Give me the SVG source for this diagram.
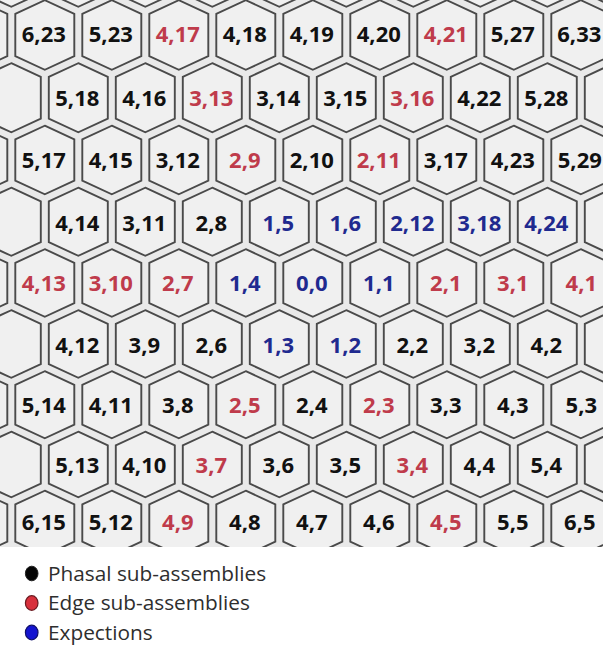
<svg xmlns="http://www.w3.org/2000/svg" xmlns:xlink="http://www.w3.org/1999/xlink" width="603" height="646" viewBox="0 0 603 646">
<style>
.hx{fill:#f0f0f0;stroke:#4a4a4a;stroke-width:1.9;stroke-linejoin:miter}
.t{font-family:"Open Sans","Liberation Sans",sans-serif;font-weight:bold;font-size:22px;text-anchor:middle}
.k{fill:#111111}
.r{fill:#bf3b4b}
.b{fill:#1f2a8f}
.lg{font-family:"Open Sans","Liberation Sans",sans-serif;font-size:20.8px;fill:#2e2e2e}
</style>
<defs>
<clipPath id="gridclip"><rect x="0" y="0" width="603" height="547"/></clipPath>
<polygon id="rm1" class="hx" points="0,-62.8 29.5,-49.2 29.5,-6.8 0,6.8 -29.5,-6.8 -29.5,-49.2"/>
<polygon id="r0" class="hx" points="0,0.2 29.5,13.8 29.5,56.2 0,69.8 -29.5,56.2 -29.5,13.8"/>
<polygon id="r1" class="hx" points="0,63.2 29.5,76.8 29.5,118.7 0,132.3 -29.5,118.7 -29.5,76.8"/>
<polygon id="r2" class="hx" points="0,125.7 29.5,139.3 29.5,180.7 0,194.3 -29.5,180.7 -29.5,139.3"/>
<polygon id="r3" class="hx" points="0,187.7 29.5,201.3 29.5,242.2 0,255.8 -29.5,242.2 -29.5,201.3"/>
<polygon id="r4" class="hx" points="0,249.2 29.5,262.8 29.5,303.2 0,316.8 -29.5,303.2 -29.5,262.8"/>
<polygon id="r5" class="hx" points="0,310.2 29.5,323.8 29.5,364.2 0,377.8 -29.5,364.2 -29.5,323.8"/>
<polygon id="r6" class="hx" points="0,371.2 29.5,384.8 29.5,424.7 0,438.3 -29.5,424.7 -29.5,384.8"/>
<polygon id="r7" class="hx" points="0,431.7 29.5,445.3 29.5,483.7 0,497.3 -29.5,483.7 -29.5,445.3"/>
<polygon id="r8" class="hx" points="0,490.7 29.5,504.3 29.5,541.7 0,555.3 -29.5,541.7 -29.5,504.3"/>
</defs>
<rect x="0" y="0" width="603" height="646" fill="#ffffff"/>
<g clip-path="url(#gridclip)">
<rect x="0" y="0" width="603" height="547" fill="#e9e9e9"/>
<g id="partial-hexes">
<use href="#rm1" x="11.3"/><use href="#rm1" x="78.3"/><use href="#rm1" x="145.3"/><use href="#rm1" x="212.3"/><use href="#rm1" x="279.3"/><use href="#rm1" x="346.3"/><use href="#rm1" x="413.3"/><use href="#rm1" x="480.3"/><use href="#rm1" x="547.3"/><use href="#rm1" x="614.3"/>
<use href="#r0" x="-22.2"/><use href="#r2" x="-22.2"/><use href="#r4" x="-22.2"/><use href="#r6" x="-22.2"/><use href="#r8" x="-22.2"/>
<use href="#r1" x="11.3"/><use href="#r3" x="11.3"/><use href="#r5" x="11.3"/><use href="#r7" x="11.3"/>
<use href="#r1" x="614.3"/><use href="#r3" x="614.3"/><use href="#r5" x="614.3"/><use href="#r7" x="614.3"/>
</g>
<g id="row0">
<g id="hex-6-23"><use href="#r0" x="44.8"/><text class="t k" x="43.8" y="41.8">6,23</text></g>
<g id="hex-5-23"><use href="#r0" x="111.8"/><text class="t k" x="110.8" y="41.8">5,23</text></g>
<g id="hex-4-17"><use href="#r0" x="178.8"/><text class="t r" x="177.8" y="41.8">4,17</text></g>
<g id="hex-4-18"><use href="#r0" x="245.8"/><text class="t k" x="244.8" y="41.8">4,18</text></g>
<g id="hex-4-19"><use href="#r0" x="312.8"/><text class="t k" x="311.8" y="41.8">4,19</text></g>
<g id="hex-4-20"><use href="#r0" x="379.8"/><text class="t k" x="378.8" y="41.8">4,20</text></g>
<g id="hex-4-21"><use href="#r0" x="446.8"/><text class="t r" x="445.8" y="41.8">4,21</text></g>
<g id="hex-5-27"><use href="#r0" x="513.8"/><text class="t k" x="512.8" y="41.8">5,27</text></g>
<g id="hex-6-33"><use href="#r0" x="580.8"/><text class="t k" x="579.3" y="41.8">6,33</text></g>
</g>
<g id="row1">
<g id="hex-5-18"><use href="#r1" x="78.3"/><text class="t k" x="77.3" y="106.3">5,18</text></g>
<g id="hex-4-16"><use href="#r1" x="145.3"/><text class="t k" x="144.3" y="106.3">4,16</text></g>
<g id="hex-3-13"><use href="#r1" x="212.3"/><text class="t r" x="211.3" y="106.3">3,13</text></g>
<g id="hex-3-14"><use href="#r1" x="279.3"/><text class="t k" x="278.3" y="106.3">3,14</text></g>
<g id="hex-3-15"><use href="#r1" x="346.3"/><text class="t k" x="345.3" y="106.3">3,15</text></g>
<g id="hex-3-16"><use href="#r1" x="413.3"/><text class="t r" x="412.3" y="106.3">3,16</text></g>
<g id="hex-4-22"><use href="#r1" x="480.3"/><text class="t k" x="479.3" y="106.3">4,22</text></g>
<g id="hex-5-28"><use href="#r1" x="547.3"/><text class="t k" x="546.3" y="106.3">5,28</text></g>
</g>
<g id="row2">
<g id="hex-5-17"><use href="#r2" x="44.8"/><text class="t k" x="43.8" y="167.8">5,17</text></g>
<g id="hex-4-15"><use href="#r2" x="111.8"/><text class="t k" x="110.8" y="167.8">4,15</text></g>
<g id="hex-3-12"><use href="#r2" x="178.8"/><text class="t k" x="177.8" y="167.8">3,12</text></g>
<g id="hex-2-9"><use href="#r2" x="245.8"/><text class="t r" x="244.8" y="167.8">2,9</text></g>
<g id="hex-2-10"><use href="#r2" x="312.8"/><text class="t k" x="311.8" y="167.8">2,10</text></g>
<g id="hex-2-11"><use href="#r2" x="379.8"/><text class="t r" x="378.8" y="167.8">2,11</text></g>
<g id="hex-3-17"><use href="#r2" x="446.8"/><text class="t k" x="445.8" y="167.8">3,17</text></g>
<g id="hex-4-23"><use href="#r2" x="513.8"/><text class="t k" x="512.8" y="167.8">4,23</text></g>
<g id="hex-5-29"><use href="#r2" x="580.8"/><text class="t k" x="579.8" y="167.8">5,29</text></g>
</g>
<g id="row3">
<g id="hex-4-14"><use href="#r3" x="78.3"/><text class="t k" x="77.3" y="230.8">4,14</text></g>
<g id="hex-3-11"><use href="#r3" x="145.3"/><text class="t k" x="144.3" y="230.8">3,11</text></g>
<g id="hex-2-8"><use href="#r3" x="212.3"/><text class="t k" x="211.3" y="230.8">2,8</text></g>
<g id="hex-1-5"><use href="#r3" x="279.3"/><text class="t b" x="278.3" y="230.8">1,5</text></g>
<g id="hex-1-6"><use href="#r3" x="346.3"/><text class="t b" x="345.3" y="230.8">1,6</text></g>
<g id="hex-2-12"><use href="#r3" x="413.3"/><text class="t b" x="412.3" y="230.8">2,12</text></g>
<g id="hex-3-18"><use href="#r3" x="480.3"/><text class="t b" x="479.3" y="230.8">3,18</text></g>
<g id="hex-4-24"><use href="#r3" x="547.3"/><text class="t b" x="546.3" y="230.8">4,24</text></g>
</g>
<g id="row4">
<g id="hex-4-13"><use href="#r4" x="44.8"/><text class="t r" x="43.8" y="290.8">4,13</text></g>
<g id="hex-3-10"><use href="#r4" x="111.8"/><text class="t r" x="110.8" y="290.8">3,10</text></g>
<g id="hex-2-7"><use href="#r4" x="178.8"/><text class="t r" x="177.8" y="290.8">2,7</text></g>
<g id="hex-1-4"><use href="#r4" x="245.8"/><text class="t b" x="244.8" y="290.8">1,4</text></g>
<g id="hex-0-0"><use href="#r4" x="312.8"/><text class="t b" x="311.8" y="290.8">0,0</text></g>
<g id="hex-1-1"><use href="#r4" x="379.8"/><text class="t b" x="378.8" y="290.8">1,1</text></g>
<g id="hex-2-1"><use href="#r4" x="446.8"/><text class="t r" x="445.8" y="290.8">2,1</text></g>
<g id="hex-3-1"><use href="#r4" x="513.8"/><text class="t r" x="512.8" y="290.8">3,1</text></g>
<g id="hex-4-1"><use href="#r4" x="580.8"/><text class="t r" x="581.3" y="290.8">4,1</text></g>
</g>
<g id="row5">
<g id="hex-4-12"><use href="#r5" x="78.3"/><text class="t k" x="77.3" y="352.8">4,12</text></g>
<g id="hex-3-9"><use href="#r5" x="145.3"/><text class="t k" x="144.3" y="352.8">3,9</text></g>
<g id="hex-2-6"><use href="#r5" x="212.3"/><text class="t k" x="211.3" y="352.8">2,6</text></g>
<g id="hex-1-3"><use href="#r5" x="279.3"/><text class="t b" x="278.3" y="352.8">1,3</text></g>
<g id="hex-1-2"><use href="#r5" x="346.3"/><text class="t b" x="345.3" y="352.8">1,2</text></g>
<g id="hex-2-2"><use href="#r5" x="413.3"/><text class="t k" x="412.3" y="352.8">2,2</text></g>
<g id="hex-3-2"><use href="#r5" x="480.3"/><text class="t k" x="479.3" y="352.8">3,2</text></g>
<g id="hex-4-2"><use href="#r5" x="547.3"/><text class="t k" x="546.3" y="352.8">4,2</text></g>
</g>
<g id="row6">
<g id="hex-5-14"><use href="#r6" x="44.8"/><text class="t k" x="43.8" y="412.8">5,14</text></g>
<g id="hex-4-11"><use href="#r6" x="111.8"/><text class="t k" x="110.8" y="412.8">4,11</text></g>
<g id="hex-3-8"><use href="#r6" x="178.8"/><text class="t k" x="177.8" y="412.8">3,8</text></g>
<g id="hex-2-5"><use href="#r6" x="245.8"/><text class="t r" x="244.8" y="412.8">2,5</text></g>
<g id="hex-2-4"><use href="#r6" x="312.8"/><text class="t k" x="311.8" y="412.8">2,4</text></g>
<g id="hex-2-3"><use href="#r6" x="379.8"/><text class="t r" x="378.8" y="412.8">2,3</text></g>
<g id="hex-3-3"><use href="#r6" x="446.8"/><text class="t k" x="445.8" y="412.8">3,3</text></g>
<g id="hex-4-3"><use href="#r6" x="513.8"/><text class="t k" x="512.8" y="412.8">4,3</text></g>
<g id="hex-5-3"><use href="#r6" x="580.8"/><text class="t k" x="581.3" y="412.8">5,3</text></g>
</g>
<g id="row7">
<g id="hex-5-13"><use href="#r7" x="78.3"/><text class="t k" x="77.3" y="472.8">5,13</text></g>
<g id="hex-4-10"><use href="#r7" x="145.3"/><text class="t k" x="144.3" y="472.8">4,10</text></g>
<g id="hex-3-7"><use href="#r7" x="212.3"/><text class="t r" x="211.3" y="472.8">3,7</text></g>
<g id="hex-3-6"><use href="#r7" x="279.3"/><text class="t k" x="278.3" y="472.8">3,6</text></g>
<g id="hex-3-5"><use href="#r7" x="346.3"/><text class="t k" x="345.3" y="472.8">3,5</text></g>
<g id="hex-3-4"><use href="#r7" x="413.3"/><text class="t r" x="412.3" y="472.8">3,4</text></g>
<g id="hex-4-4"><use href="#r7" x="480.3"/><text class="t k" x="479.3" y="472.8">4,4</text></g>
<g id="hex-5-4"><use href="#r7" x="547.3"/><text class="t k" x="546.3" y="472.8">5,4</text></g>
</g>
<g id="row8">
<g id="hex-6-15"><use href="#r8" x="44.8"/><text class="t k" x="43.8" y="529.8">6,15</text></g>
<g id="hex-5-12"><use href="#r8" x="111.8"/><text class="t k" x="110.8" y="529.8">5,12</text></g>
<g id="hex-4-9"><use href="#r8" x="178.8"/><text class="t r" x="177.8" y="529.8">4,9</text></g>
<g id="hex-4-8"><use href="#r8" x="245.8"/><text class="t k" x="244.8" y="529.8">4,8</text></g>
<g id="hex-4-7"><use href="#r8" x="312.8"/><text class="t k" x="311.8" y="529.8">4,7</text></g>
<g id="hex-4-6"><use href="#r8" x="379.8"/><text class="t k" x="378.8" y="529.8">4,6</text></g>
<g id="hex-4-5"><use href="#r8" x="446.8"/><text class="t r" x="445.8" y="529.8">4,5</text></g>
<g id="hex-5-5"><use href="#r8" x="513.8"/><text class="t k" x="512.8" y="529.8">5,5</text></g>
<g id="hex-6-5"><use href="#r8" x="580.8"/><text class="t k" x="579.8" y="529.8">6,5</text></g>
</g>
</g>
<g id="connectors"/>
<g id="legend">
<g id="legend-phasal"><ellipse cx="31.7" cy="573.5" rx="6.3" ry="7.3" fill="#050505" stroke="#222" stroke-width="1"/><text class="lg" x="48" y="580.5">Phasal sub-assemblies</text></g>
<g id="legend-edge"><ellipse cx="31.7" cy="603" rx="6.3" ry="7.3" fill="#d8303c" stroke="#6a1a20" stroke-width="1.2"/><text class="lg" x="48" y="610">Edge sub-assemblies</text></g>
<g id="legend-exceptions"><ellipse cx="31.7" cy="632.5" rx="6.3" ry="7.3" fill="#1414d0" stroke="#10106a" stroke-width="1.2"/><text class="lg" x="48" y="639.5">Expections</text></g>
</g>
</svg>
